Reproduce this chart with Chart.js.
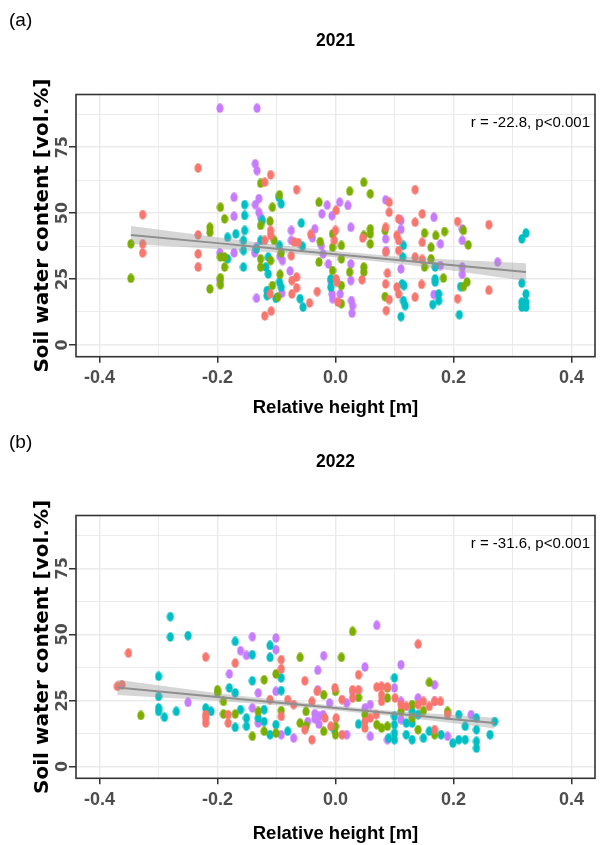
<!DOCTYPE html>
<html>
<head>
    <title>Soil water content vs relative height</title>
    <script src="https://cdn.jsdelivr.net/npm/chart.js"></script>
    <style>
        body { margin: 0; background: #fff; }
        .panel { width: 600px; position: relative; }
    </style>
</head>
<body>
    <div class="panel"><canvas id="chart2021" width="600" height="421"></canvas></div>
    <div class="panel"><canvas id="chart2022" width="600" height="424"></canvas></div>
    <script>
        // axis ticks (minor ticks have an empty label)
        const xTickValues = [-0.4, -0.3, -0.2, -0.1, 0, 0.1, 0.2, 0.3, 0.4];
        const xTickLabels = ['-0.4', '', '-0.2', '', '0.0', '', '0.2', '', '0.4'];
        const yTickValues = [0, 12.5, 25, 37.5, 50, 62.5, 75, 87.5];
        const yTickLabels = ['0', '', '25', '', '50', '', '75', ''];

        // 2021 points [relative height, soil water content], one array per colour group
        const red2021 = [[-0.327,49.4],[-0.327,38.3],[-0.327,34.9],[-0.233,67.1],[-0.233,41.7],[-0.233,34.5],[-0.233,29.5],
            [-0.11,64.5],[-0.12,61.7],[-0.11,43.4],[-0.11,41.5],[-0.12,39.6],[-0.111,19.3],[-0.109,12.8],[-0.12,11.0],
            [-0.066,58.9],[-0.07,39.0],[-0.063,38.8],[-0.075,33.8],[-0.074,24.4],[-0.066,25.7],[-0.066,21.6],[-0.074,19.3],
            [-0.044,15.9],[-0.031,20.2],[-0.042,41.9],[0.001,51.0],[0.0,43.4],[-0.002,39.6],[0.001,25.0],[0.002,23.8],[0.004,16.2],
            [0.046,40.5],[0.045,24.7],[0.091,54.1],[0.091,50.3],[0.085,44.6],[0.085,35.2],[0.088,27.2],[0.085,23.1],[0.091,17.2],
            [0.086,13.0],[0.107,47.8],[0.104,41.5],[0.107,39.6],[0.107,35.8],[0.104,21.9],[0.107,19.3],[0.135,58.9],[0.135,46.5],
            [0.135,33.3],[0.135,18.1],[0.147,49.7],[0.147,38.9],[0.147,32.4],[0.146,22.9],[0.207,46.8],[0.207,17.5],[0.26,45.6],[0.26,20.7]];
        const green2021 = [[-0.347,38.3],[-0.347,25.2],[-0.213,44.6],[-0.213,42.7],[-0.213,21.2],[-0.195,52.2],[-0.188,47.8],
            [-0.195,33.3],[-0.188,33.3],[-0.188,29.5],[-0.195,25.4],[-0.195,22.8],[-0.127,61.3],[-0.111,46.9],[-0.127,45.3],
            [-0.107,52.2],[-0.095,56.9],[-0.104,39.6],[-0.127,32.6],[-0.127,29.5],[-0.11,32.0],[-0.107,22.5],[-0.098,18.1],
            [-0.094,26.7],[-0.092,34.9],[-0.028,54.1],[-0.026,39.2],[-0.028,31.4],[-0.005,42.1],[-0.005,37.0],[0.01,37.7],
            [0.01,32.6],[0.01,22.5],[0.01,15.6],[-0.005,28.2],[0.024,58.3],[0.024,27.6],[0.048,61.7],[0.059,57.3],[0.059,44.0],
            [0.059,42.1],[0.059,38.3],[0.048,41.5],[0.048,29.5],[0.048,27.6],[0.084,43.4],[0.084,18.3],[0.151,42.4],[0.162,37.0],
            [0.162,32.6],[0.151,29.5],[0.17,41.5],[0.185,43.0],[0.183,25.3],[0.217,43.4],[0.225,37.9],[0.223,23.8],[0.217,22.1]];
        const cyan2021 = [[-0.154,53.2],[-0.154,49.1],[-0.154,43.4],[-0.156,39.6],[-0.156,35.8],[-0.156,29.5],[-0.183,40.8],
            [-0.169,42.1],[-0.183,32.6],[-0.124,47.2],[-0.127,39.6],[-0.134,36.4],[-0.114,33.3],[-0.118,29.5],[-0.114,26.9],
            [-0.116,20.6],[-0.116,18.7],[-0.092,53.5],[-0.096,56.0],[-0.095,37.7],[-0.095,23.8],[-0.092,21.9],[-0.101,17.6],
            [-0.058,46.2],[-0.056,37.4],[-0.06,17.5],[-0.055,14.3],[-0.008,25.0],[-0.008,21.9],[0.115,37.7],[0.114,33.3],
            [0.113,23.1],[0.116,22.5],[0.115,16.8],[0.118,14.9],[0.111,10.7],[0.169,29.5],[0.169,25.0],[0.169,23.8],[0.175,19.3],
            [0.175,16.8],[0.165,15.3],[0.212,22.1],[0.21,11.4],[0.316,40.2],[0.323,42.4],[0.316,23.4],[0.323,19.3],[0.316,16.2],
            [0.323,16.2],[0.316,14.3],[0.323,14.3]];
        const purple2021 = [[-0.196,89.8],[-0.133,89.8],[-0.136,68.7],[-0.133,66.1],[-0.172,56.0],[-0.13,55.5],[-0.136,53.2],
            [-0.13,50.3],[-0.127,48.4],[-0.172,48.8],[-0.196,34.9],[-0.137,34.9],[-0.134,37.0],[-0.172,34.9],[-0.094,33.6],
            [-0.09,32.0],[-0.091,19.6],[-0.134,17.7],[-0.196,24.4],[-0.075,43.4],[-0.075,39.6],[-0.077,28.0],[-0.035,44.0],
            [-0.039,40.6],[-0.023,49.7],[-0.014,53.0],[-0.006,49.0],[0.007,54.1],[0.021,52.9],[0.026,44.6],[-0.024,37.7],
            [-0.012,30.7],[-0.021,34.5],[-0.008,24.4],[-0.006,19.3],[-0.005,17.5],[0.008,19.3],[0.026,30.7],[0.026,24.4],
            [0.027,16.8],[0.029,14.9],[0.028,12.0],[0.085,55.0],[0.085,40.2],[0.086,35.8],[0.111,47.2],[0.111,43.8],[0.111,28.8],
            [0.167,48.4],[0.178,38.3],[0.178,30.1],[0.167,19.1],[0.215,44.0],[0.215,39.6],[0.215,29.5],[0.215,26.7],[0.275,31.4]];

        // 2021 fitted line with its confidence band
        const fitX2021 = [-0.347, -0.2, -0.1, 0, 0.1, 0.2, 0.323];
        const fitY2021 = [41.7, 38.6, 36.5, 34.4, 32.3, 30.2, 27.6];
        const fitLow2021 = [38.3, 36.4, 35.0, 33.2, 31.0, 28.1, 24.2];
        const fitHigh2021 = [45.1, 40.8, 38.0, 35.6, 33.6, 32.3, 31.0];

        // 2022 points
        const red2022 = [[-0.37,30.3],[-0.362,30.9],[-0.351,42.9],[-0.22,41.4],[-0.22,19.6],[-0.22,18.3],[-0.22,16.4],
            [-0.182,19.6],[-0.182,16.4],[-0.17,39.1],[-0.092,40.4],[-0.092,36.9],[-0.092,18.9],[-0.111,25.3],[-0.081,25.3],
            [-0.071,23.4],[-0.052,32.4],[-0.052,13.9],[-0.04,10.1],[-0.031,28.4],[-0.04,24.6],[-0.018,18.3],[-0.008,15.2],
            [-0.001,29.7],[0.001,18.3],[0.011,25.3],[0.011,12.0],[0.029,29.0],[0.029,25.9],[0.039,29.0],[0.039,34.7],[0.05,17.0],
            [0.059,18.3],[0.07,30.0],[0.078,30.3],[0.088,30.0],[0.078,27.1],[0.078,24.6],[0.069,19.6],[0.101,25.9],[0.111,23.4],
            [0.12,22.7],[0.14,46.3],[0.14,23.4],[0.149,24.6],[0.159,22.7],[0.168,24.6],[0.178,24.6],[0.168,13.9],[0.19,19.6],[0.05,14.5]];
        const green2022 = [[-0.33,19.3],[-0.2,29.0],[-0.2,27.8],[-0.19,24.6],[-0.19,19.8],[-0.17,19.8],[-0.141,11.4],
            [-0.131,20.8],[-0.121,32.8],[-0.121,13.3],[-0.101,35.0],[-0.092,21.1],[-0.101,12.6],[-0.06,41.3],[-0.06,16.4],
            [-0.05,20.8],[-0.05,15.2],[-0.02,27.1],[-0.02,13.3],[0.0,28.4],[0.0,15.2],[0.0,12.0],[0.01,41.3],[0.029,51.1],
            [0.039,26.1],[0.05,19.6],[0.07,15.8],[0.078,14.5],[0.088,15.2],[0.088,29.7],[0.088,25.9],[0.111,20.8],[0.13,23.4],
            [0.13,18.3],[0.14,13.9],[0.149,21.1],[0.159,31.8],[0.168,12.0],[0.19,20.8]];
        const cyan2022 = [[-0.3,34.1],[-0.3,26.5],[-0.3,22.1],[-0.3,20.8],[-0.29,18.6],[-0.28,56.7],[-0.28,49.0],[-0.27,20.8],
            [-0.25,49.5],[-0.211,20.8],[-0.22,22.1],[-0.18,29.7],[-0.17,47.3],[-0.17,27.8],[-0.17,14.8],[-0.161,21.5],
            [-0.151,18.3],[-0.151,15.2],[-0.141,42.3],[-0.141,32.4],[-0.131,18.3],[-0.121,21.5],[-0.121,17.0],[-0.111,45.8],
            [-0.111,41.3],[-0.111,12.0],[-0.101,15.8],[-0.092,33.5],[-0.092,28.7],[-0.081,13.3],[-0.002,13.9],[0.039,16.0],
            [0.1,33.5],[0.1,19.0],[0.1,15.8],[0.1,12.6],[0.1,10.1],[0.09,10.7],[0.12,16.4],[0.12,12.0],[0.13,20.8],[0.13,16.4],
            [0.13,10.1],[0.14,19.6],[0.149,10.7],[0.159,13.3],[0.179,12.0],[0.199,8.8],[0.209,19.6],[0.209,10.1],[0.22,15.2],
            [0.22,10.1],[0.239,18.3],[0.239,13.9],[0.239,9.5],[0.239,6.9],[0.262,12.0],[0.27,17.0]];
        const purple2022 = [[-0.25,24.2],[-0.18,35.0],[-0.161,43.8],[-0.151,42.0],[-0.141,49.1],[-0.131,27.8],[-0.131,16.4],
            [-0.141,22.1],[-0.101,48.6],[-0.101,44.2],[-0.101,28.4],[-0.092,12.0],[-0.071,10.7],[-0.03,36.4],[-0.02,41.9],
            [-0.03,29.0],[-0.035,20.0],[-0.028,19.0],[-0.035,18.0],[-0.028,16.0],[-0.047,17.0],[-0.021,19.6],[-0.01,24.0],
            [0.019,24.0],[0.019,12.0],[0.029,28.4],[0.05,37.6],[0.05,22.1],[0.059,23.4],[0.059,11.4],[0.07,53.4],[0.088,10.1],
            [0.1,29.7],[0.111,38.5],[0.111,24.6],[0.111,17.7],[0.14,25.9],[0.168,30.9],[0.168,24.6],[0.19,11.4],[0.23,19.6]];

        // 2022 fitted line with its confidence band
        const fitX2022 = [-0.37, -0.2, -0.1, 0, 0.1, 0.2, 0.27];
        const fitY2022 = [29.9, 26.3, 24.2, 22.1, 20.0, 17.9, 16.4];
        const fitLow2022 = [27.0, 24.9, 23.2, 21.2, 19.0, 16.3, 14.4];
        const fitHigh2022 = [32.8, 27.7, 25.2, 23.0, 21.0, 19.5, 18.4];

        const groupColors = ['#F8766D', '#7CAE00', '#00BFC4', '#C77CFF'];
        // horizontal text in the reference is squeezed, vertical text is stretched
        const narrow = '"Liberation Sans", Arial, sans-serif';
        const wide = '"DejaVu Sans", "Liberation Sans", sans-serif';

        // slightly tall ellipse marker, like the stretched ggplot points
        function marker(color) {
            const c = document.createElement('canvas');
            c.width = 8;
            c.height = 10;
            const g = c.getContext('2d');
            g.fillStyle = color;
            g.beginPath();
            g.ellipse(4, 5, 3.6, 4.7, 0, 0, Math.PI * 2);
            g.fill();
            return c;
        }
        const markers = groupColors.map(marker);

        function toXY(pairs) {
            return pairs.map(p => ({ x: p[0], y: p[1] }));
        }
        function zipXY(xs, ys) {
            return xs.map((x, i) => ({ x: x, y: ys[i] }));
        }

        // border, panel tag and the correlation note
        const panelText = {
            id: 'panelText',
            afterDraw(chart, args, opts) {
                const ctx = chart.ctx;
                const a = chart.chartArea;
                ctx.save();
                ctx.strokeStyle = '#333333';
                ctx.lineWidth = 1.6;
                ctx.strokeRect(a.left, a.top, a.right - a.left, a.bottom - a.top);
                ctx.fillStyle = '#000';
                ctx.textBaseline = 'middle';
                ctx.font = '19px ' + narrow;
                ctx.textAlign = 'left';
                ctx.fillText(opts.tag, 9, opts.tagY);
                ctx.font = '15px ' + narrow;
                ctx.textAlign = 'right';
                ctx.fillText(opts.note, a.right - 5, a.top + 28);
                ctx.restore();
            }
        };

        function makeChart(id, year, tag, tagY, note, groups, fitX, fitY, fitLow, fitHigh, xHeight, xTitlePad) {
            const pointSets = groups.map((g, i) => ({
                type: 'scatter',
                label: 'group ' + (i + 1),
                data: toXY(g),
                pointStyle: markers[i],
                pointRadius: 4,
                backgroundColor: groupColors[i]
            }));
            new Chart(document.getElementById(id), {
                type: 'scatter',
                data: {
                    datasets: [
                        {
                            type: 'line', label: 'fit', data: zipXY(fitX, fitY),
                            borderColor: '#8f8f8f', borderWidth: 2, pointRadius: 0, fill: false, tension: 0
                        },
                        {
                            type: 'line', label: 'upper', data: zipXY(fitX, fitHigh),
                            borderWidth: 0, pointRadius: 0, fill: 2, tension: 0,
                            backgroundColor: 'rgba(153,153,153,0.4)'
                        },
                        {
                            type: 'line', label: 'lower', data: zipXY(fitX, fitLow),
                            borderWidth: 0, pointRadius: 0, fill: false, tension: 0
                        }
                    ].concat(pointSets)
                },
                options: {
                    responsive: false,
                    animation: false,
                    layout: { padding: { left: 0, right: 1, top: 0, bottom: 0 } },
                    scales: {
                        x: {
                            type: 'linear', min: -0.44, max: 0.44,
                            afterBuildTicks: s => { s.ticks = xTickValues.map(v => ({ value: v })); },
                            afterFit: s => { s.height = xHeight; },
                            border: { display: false },
                            grid: {
                                color: '#ebebeb',
                                lineWidth: c => (c.index % 2 === 0 ? 1.5 : 1),
                                tickLength: 6,
                                tickWidth: 1.5,
                                tickColor: c => (c.index % 2 === 0 ? '#333333' : 'rgba(0,0,0,0)')
                            },
                            ticks: {
                                autoSkip: false, maxRotation: 0, padding: 5, color: '#4d4d4d',
                                font: { family: narrow, weight: 'bold', size: 18 },
                                callback: (v, i) => xTickLabels[i]
                            },
                            title: {
                                display: true, text: 'Relative height [m]', color: '#000',
                                font: { family: narrow, weight: 'bold', size: 18.5 },
                                padding: { top: 0, bottom: xTitlePad }
                            }
                        },
                        y: {
                            type: 'linear', min: -4.5, max: 95,
                            afterBuildTicks: s => { s.ticks = yTickValues.map(v => ({ value: v })); },
                            afterFit: s => { s.width = 76; },
                            border: { display: false },
                            grid: {
                                color: '#ebebeb',
                                lineWidth: c => (c.index % 2 === 0 ? 1.5 : 1),
                                tickLength: 7,
                                tickWidth: 1.5,
                                tickColor: c => (c.index % 2 === 0 ? '#333333' : 'rgba(0,0,0,0)')
                            },
                            ticks: {
                                autoSkip: false, minRotation: 90, maxRotation: 90, crossAlign: 'center',
                                padding: -5, color: '#4d4d4d',
                                font: { family: wide, weight: 'bold', size: 16 },
                                callback: (v, i) => yTickLabels[i]
                            },
                            title: {
                                display: true, text: 'Soil water content [vol.%]', color: '#000',
                                font: { family: wide, weight: 'bold', size: 20 },
                                padding: { top: 30.5, bottom: 0 }
                            }
                        }
                    },
                    plugins: {
                        legend: { display: false },
                        tooltip: { enabled: false },
                        title: {
                            display: true, text: year, fullSize: false, color: '#000',
                            font: { family: narrow, weight: 'bold', size: 17.5 },
                            padding: { top: 30.5, bottom: 43 }
                        },
                        panelText: { tag: tag, tagY: tagY, note: note }
                    }
                },
                plugins: [panelText]
            });
        }

        makeChart('chart2021', '2021', '(a)', 21, 'r = -22.8, p<0.001',
            [red2021, green2021, cyan2021, purple2021], fitX2021, fitY2021, fitLow2021, fitHigh2021, 64.3, 2);
        makeChart('chart2022', '2022', '(b)', 22, 'r = -31.6, p<0.001',
            [red2022, green2022, cyan2022, purple2022], fitX2022, fitY2022, fitLow2022, fitHigh2022, 66.7, 0);
    </script>
</body>
</html>
